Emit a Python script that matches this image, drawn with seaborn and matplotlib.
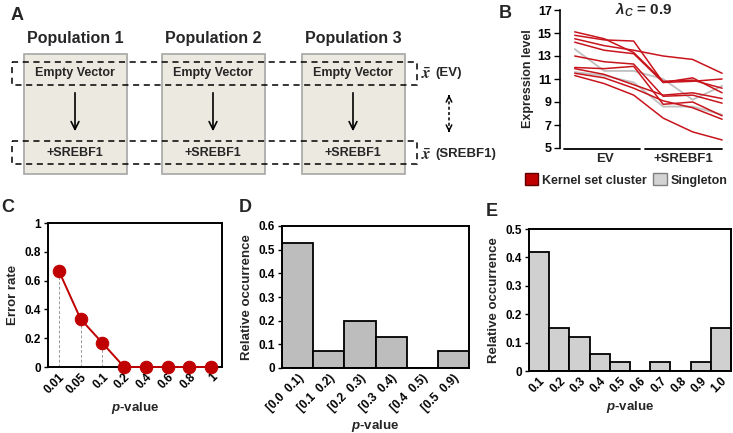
import matplotlib.pyplot as plt
import matplotlib.patches as mpatches
import seaborn as sns
import pandas as pd

# ---- data ----
populations = ['Population 1', 'Population 2', 'Population 3']
conditions = ['EV', '+SREBF1']

# panel B: expression profiles, 3 EV samples then 3 +SREBF1 samples
kernel_lines = [
    [15.1, 14.5, 13.3, 10.8, 10.9, 10.2],
    [14.8, 14.4, 14.3, 10.7, 11.1, 9.8],
    [14.5, 13.9, 13.5, 13.0, 12.7, 11.5],
    [14.2, 13.5, 13.2, 10.7, 10.8, 11.0],
    [13.0, 12.5, 12.3, 9.5, 9.6, 8.9],
    [12.0, 11.9, 12.1, 8.8, 9.0, 7.8],
    [11.9, 11.4, 10.5, 9.6, 9.8, 9.3],
    [11.5, 11.1, 10.2, 9.1, 8.5, 7.5],
    [11.3, 10.6, 9.6, 7.6, 6.4, 5.7],
]
singleton_lines = [
    [13.6, 11.7, 11.7, 11.0, 9.2, 10.4],
    [11.6, 11.3, 10.7, 8.6, 8.6, 7.9],
]

# panel C
pval_thresholds = ['0.01', '0.05', '0.1', '0.2', '0.4', '0.6', '0.8', '1']
error_rate = [0.667, 0.333, 0.167, 0, 0, 0, 0, 0]

# panel D
d_bins = ['[0.0  0.1)', '[0.1  0.2)', '[0.2  0.3)', '[0.3  0.4)', '[0.4  0.5)', '[0.5  0.9)']
d_occ = [0.53, 0.07, 0.20, 0.13, 0.0, 0.07]

# panel E
e_bins = ['0.1', '0.2', '0.3', '0.4', '0.5', '0.6', '0.7', '0.8', '0.9', '1.0']
e_occ = [0.42, 0.15, 0.12, 0.06, 0.03, 0.0, 0.03, 0.0, 0.03, 0.15]

RED = '#c00000'
W, H = 733, 433

sns.set_style('white')
plt.rcParams['font.family'] = ['Liberation Sans', 'DejaVu Sans']
plt.rcParams['font.weight'] = 'bold'
plt.rcParams['axes.labelweight'] = 'bold'
plt.rcParams['mathtext.fontset'] = 'custom'
plt.rcParams['mathtext.it'] = 'Liberation Sans:bold:italic'
plt.rcParams['mathtext.rm'] = 'Liberation Sans:bold'
plt.rcParams['mathtext.bf'] = 'Liberation Sans:bold'


def px_axes(fig, left, top, right, bottom):
    return fig.add_axes([left / W, 1 - bottom / H, (right - left) / W, (bottom - top) / H])


def style_ticks(ax, size=8.5):
    ax.tick_params(axis='both', labelsize=size, width=1, colors='black')
    for lab in ax.get_xticklabels() + ax.get_yticklabels():
        lab.set_fontweight('bold')


fig = plt.figure(figsize=(W / 100, H / 100), dpi=100)

# ---- panel A (diagram) + panel letters, drawn in pixel space ----
canvas = fig.add_axes([0, 0, 1, 1])
canvas.set_xlim(0, W)
canvas.set_ylim(H, 0)
canvas.axis('off')

box_left = [24, 162, 302]
for name, bx in zip(populations, box_left):
    canvas.add_patch(mpatches.Rectangle((bx, 54), 103, 120, facecolor='#ece9e0',
                                        edgecolor='#a6a6a6', lw=1.2))
    cx = bx + 51
    canvas.text(cx, 39, name, ha='center', va='center', fontsize=11.5, fontweight='bold')
    canvas.text(cx, 73, 'Empty Vector', ha='center', va='center', fontsize=9, fontweight='bold')
    canvas.text(cx, 153, '+SREBF1', ha='center', va='center', fontsize=9, fontweight='bold')
    canvas.annotate('', xy=(cx, 134), xytext=(cx, 90),
                    arrowprops=dict(arrowstyle='->', lw=1.2, color='black', mutation_scale=14))

for y0 in (62, 141):
    canvas.add_patch(mpatches.Rectangle((12, y0), 405, 23, facecolor='none',
                                        edgecolor='black', lw=1.1, ls=(0, (4, 3))))
for y0, lab in zip((73, 154), ['(EV)', '(SREBF1)']):
    canvas.text(421, y0 + 1, r'$\bar{x}$', ha='left', va='center', fontsize=12,
                math_fontfamily='stix')
    canvas.text(435, y0, lab, ha='left', va='center', fontsize=9.5, fontweight='bold')
# dashed double arrow between the two means
canvas.plot([449, 449], [96, 131], color='black', lw=1.1, ls=(0, (2, 1.5)))
canvas.annotate('', xy=(449, 92), xytext=(449, 99),
                arrowprops=dict(arrowstyle='->', lw=1.1, color='black', mutation_scale=10))
canvas.annotate('', xy=(449, 135), xytext=(449, 128),
                arrowprops=dict(arrowstyle='->', lw=1.1, color='black', mutation_scale=10))

for letter, (lx, ly) in zip('ABCDE', [(17, 15), (505, 13), (8, 208), (245, 207), (492, 211)]):
    canvas.text(lx, ly, letter, ha='center', va='center', fontsize=13, fontweight='bold')

# ---- panel B ----
axB = px_axes(fig, 560, 10, 728, 148)
rows = []
for i, vals in enumerate(kernel_lines):
    for s, v in enumerate(vals):
        rows.append(dict(gene=f'k{i}', sample=s, value=v, group='Kernel set cluster'))
for i, vals in enumerate(singleton_lines):
    for s, v in enumerate(vals):
        rows.append(dict(gene=f's{i}', sample=s, value=v, group='Singleton'))
df_b = pd.DataFrame(rows)
sns.lineplot(data=df_b[df_b.group == 'Singleton'], x='sample', y='value', units='gene',
             estimator=None, color='#bfbfbf', lw=1.3, ax=axB)
sns.lineplot(data=df_b[df_b.group == 'Kernel set cluster'], x='sample', y='value', units='gene',
             estimator=None, color='#c8141c', lw=1.1, ax=axB)
axB.set_xlim(-0.5, 5.2)
axB.set_ylim(5, 17)
axB.set_yticks(range(5, 18, 2))
axB.set_xticks([])
axB.set_xlabel('')
axB.set_ylabel('Expression level', fontsize=9, fontweight='bold', labelpad=3)
for sp in ('top', 'right', 'bottom'):
    axB.spines[sp].set_visible(False)
axB.spines['left'].set_color('black')
axB.spines['left'].set_linewidth(1.2)
axB.tick_params(axis='y', left=True, length=4, direction='out', pad=2)
style_ticks(axB, 9)
trans = axB.get_xaxis_transform()
for (x0, x1), lab in zip([(-0.35, 2.2), (2.4, 5.0)], conditions):
    axB.plot([x0, x1], [-0.01, -0.01], color='black', lw=1.3, transform=trans, clip_on=False)
    axB.text((x0 + x1) / 2 + (0.1 if lab == 'EV' else 0), -0.08, lab, transform=trans,
             ha='center', va='center', fontsize=9.5, fontweight='bold')
axB.text(0.5, 1.0, r'$\mathit{\lambda_C}$ = 0.9', transform=axB.transAxes, ha='center',
         va='center', fontsize=11, fontweight='bold')

handles = [mpatches.Patch(facecolor=RED, edgecolor='#600000', label='Kernel set cluster'),
           mpatches.Patch(facecolor='#d3d3d3', edgecolor='#7f7f7f', label='Singleton')]
fig.legend(handles=handles, loc='center', bbox_to_anchor=(626 / W, 1 - 180 / H), ncol=2,
           frameon=False, handlelength=1.1, handleheight=1.1, handletextpad=0.3,
           columnspacing=0.5, prop={'weight': 'bold', 'size': 9})

# ---- panel C ----
axC = px_axes(fig, 48, 223, 222, 367)
df_c = pd.DataFrame({'pos': range(len(pval_thresholds)), 'err': error_rate})
axC.vlines(df_c.pos[:3], 0, df_c.err[:3], colors='#999999', linestyles=(0, (3, 2)), lw=0.7)
sns.lineplot(data=df_c, x='pos', y='err', color=RED, lw=1.4, marker='o', markersize=9,
             markeredgecolor=RED, ax=axC, clip_on=False, zorder=3)
axC.set_xlim(-0.5, 7.5)
axC.set_ylim(0, 1)
axC.set_yticks([0, 0.2, 0.4, 0.6, 0.8, 1])
axC.set_yticklabels(['0', '0.2', '0.4', '0.6', '0.8', '1'])
axC.set_xticks(range(len(pval_thresholds)))
axC.set_xticklabels(pval_thresholds, rotation=45, ha='right', rotation_mode='anchor')
axC.set_xlabel('$\\mathit{p}$-value', fontsize=9.5, labelpad=3)
axC.set_ylabel('Error rate', fontsize=9.5, labelpad=4)
axC.tick_params(axis='y', left=True, length=3, pad=2)
axC.tick_params(axis='x', length=0, pad=3)

# ---- panel D ----
axD = px_axes(fig, 282, 226, 469, 368)
sns.barplot(x=d_bins, y=d_occ, color='#bdbdbd', saturation=1, width=1, edgecolor='black',
            linewidth=1.3, ax=axD)
axD.set_xlim(-0.5, 5.5)
axD.set_ylim(0, 0.6)
axD.set_yticks([0, 0.1, 0.2, 0.3, 0.4, 0.5, 0.6])
axD.set_yticklabels(['0', '0.1', '0.2', '0.3', '0.4', '0.5', '0.6'])
axD.set_xticks(range(len(d_bins)))
axD.set_xticklabels(d_bins, rotation=45, ha='right', rotation_mode='anchor')
axD.set_xlabel('$\\mathit{p}$-value', fontsize=9.5, labelpad=3)
axD.set_ylabel('Relative occurrence', fontsize=9.5, labelpad=4)
axD.tick_params(axis='y', left=True, length=3, pad=2)
axD.tick_params(axis='x', length=0, pad=3)

# ---- panel E ----
axE = px_axes(fig, 529, 229, 731, 371)
sns.barplot(x=e_bins, y=e_occ, color='#d0d0d0', saturation=1, width=1, edgecolor='black',
            linewidth=1.3, ax=axE)
axE.set_xlim(-0.5, 9.5)
axE.set_ylim(0, 0.5)
axE.set_yticks([0, 0.1, 0.2, 0.3, 0.4, 0.5])
axE.set_yticklabels(['0', '0.1', '0.2', '0.3', '0.4', '0.5'])
axE.set_xticks(range(len(e_bins)))
axE.set_xticklabels(e_bins, rotation=45, ha='right', rotation_mode='anchor')
axE.set_xlabel('$\\mathit{p}$-value', fontsize=9.5, labelpad=3)
axE.set_ylabel('Relative occurrence', fontsize=9.5, labelpad=4)
axE.tick_params(axis='y', left=True, length=3, pad=2)
axE.tick_params(axis='x', length=0, pad=3)

for ax in (axC, axD, axE):
    for sp in ax.spines.values():
        sp.set_visible(True)
        sp.set_color('black')
        sp.set_linewidth(1.4)
    style_ticks(ax, 8.5)

fig.savefig('out.png', dpi=100)
